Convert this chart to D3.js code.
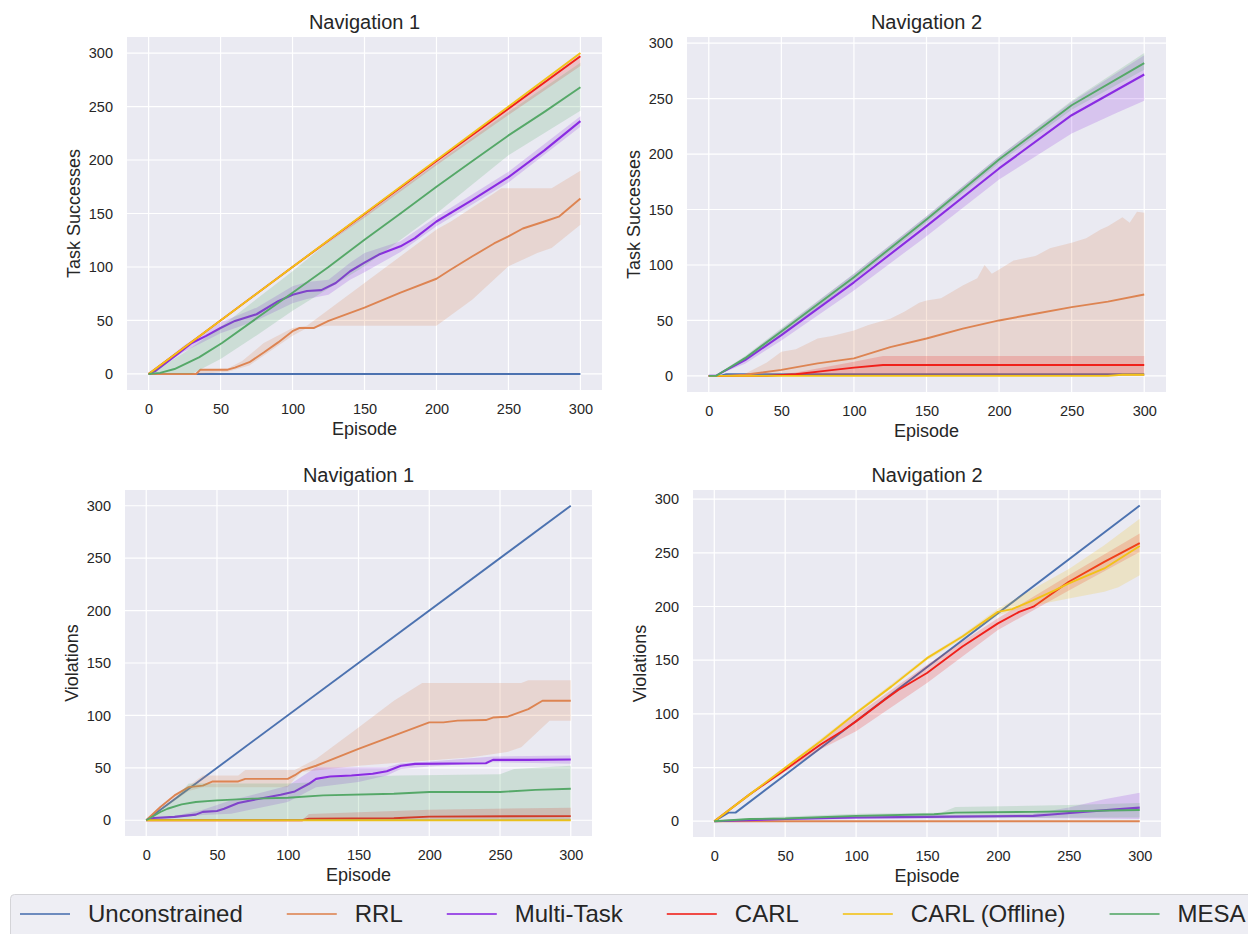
<!DOCTYPE html>
<html>
<head>
<meta charset="utf-8">
<script src="https://cdn.jsdelivr.net/npm/d3@7"></script>
<style>
  html, body { margin: 0; padding: 0; background: #fff; }
  svg { display: block; font-family: "Liberation Sans", Arial, sans-serif; }
</style>
</head>
<body>
<svg id="chart" width="1248" height="934"></svg>
<script>
// Task successes / violations per episode, two navigation envs.
// Each series: mean line as [episode, value] pairs, band as hi/lo pairs.

const seriesNames = ["Unconstrained", "RRL", "Multi-Task", "CARL", "CARL (Offline)", "MESA"];
const seriesColors = ["#4c72b0", "#dd8452", "#8a2be2", "#f0201a", "#f2c218", "#55a868"];
const xTicks = [0, 50, 100, 150, 200, 250, 300];
const yTicks = [0, 50, 100, 150, 200, 250, 300];

// ---- Navigation 1 : Task Successes
const p1_unc = [[0, 0], [300, 0]];
const p1_rrl = [[0, 0], [33, 0], [36, 4], [55, 4], [60, 6], [70, 11], [80, 20], [90, 29.5], [100, 40], [105, 43], [115, 43], [125, 49.6], [150, 62], [175, 76], [200, 89], [210, 97.6], [225, 110], [240, 122], [250, 128.6], [260, 136], [275, 142.5], [285, 147], [300, 164]];
const p1_rrl_hi = [[0, 0], [33, 0], [36, 4], [55, 5], [65, 12], [80, 29], [100, 43], [110, 45], [200, 135], [210, 142.5], [240, 169], [245, 173.5], [280, 173.5], [300, 190]];
const p1_rrl_lo = [[0, 0], [35, 0], [55, 2], [70, 8], [100, 35.6], [110, 43], [125, 45], [200, 45], [225, 69.7], [250, 100.7], [270, 113], [280, 117.8], [300, 139.5]];
const p1_mt = [[0, 0], [5, 3], [20, 18.6], [30, 29], [40, 35.6], [50, 43], [60, 49.6], [75, 55.8], [90, 68], [100, 74], [110, 77.5], [120, 78.4], [130, 85], [140, 96], [150, 104], [160, 111.6], [175, 119.3], [185, 127], [200, 142.5], [225, 162.7], [250, 184], [275, 209], [300, 236.4]];
const p1_mt_hi = [[0, 0], [25, 27], [50, 48], [75, 62], [100, 82], [110, 86], [125, 88], [140, 104], [150, 113], [175, 124], [200, 147], [250, 189], [300, 241]];
const p1_mt_lo = [[0, 0], [25, 21], [50, 38], [75, 50], [100, 66], [110, 70], [125, 74], [140, 88], [150, 95], [175, 114], [200, 138], [250, 179], [300, 231]];
const p1_carl = [[0, 0], [100, 100], [150, 149.5], [200, 199], [250, 248], [300, 297]];
const p1_carl_hi = [[0, 0], [300, 300]];
const p1_carl_lo = [[0, 0], [100, 100], [110, 109], [150, 146], [200, 195], [250, 242], [300, 288]];
const p1_off = [[0, 0], [300, 300]];
const p1_mesa = [[0, 0], [8, 1], [18, 4.6], [35, 15.5], [51, 29], [75, 52], [100, 76], [125, 100], [150, 125.5], [175, 150], [200, 175], [225, 199], [250, 223], [275, 245], [300, 268]];
const p1_mesa_hi = [[0, 0], [25, 20], [50, 44], [75, 70], [100, 96], [120, 118], [150, 148], [200, 197], [250, 245], [300, 291]];
const p1_mesa_lo = [[0, 0], [30, 0], [50, 14], [75, 36], [100, 59], [150, 100.7], [200, 150], [250, 204.5], [300, 246]];

// ---- Navigation 2 : Task Successes
const p2_unc = [[0, 0], [8, 0], [12, 1.5], [300, 1.5]];
const p2_rrl = [[0, 0], [10, 0], [25, 1], [50, 5.4], [75, 11.3], [100, 15.8], [125, 26], [150, 33.7], [175, 42.6], [200, 50], [225, 56], [250, 62], [275, 67], [300, 73.4]];
const p2_rrl_hi = [[0, 0], [10, 0], [25, 2], [40, 12], [50, 21.8], [60, 24], [75, 33.7], [85, 36], [100, 41], [110, 46], [125, 51.6], [135, 58], [145, 66], [150, 68], [160, 70], [175, 81.4], [185, 88], [190, 100], [195, 92], [200, 96], [210, 104], [225, 108], [235, 115], [250, 120], [260, 124], [270, 132], [275, 135], [285, 143], [290, 138], [295, 148], [300, 147]];
const p2_rrl_lo = [[0, 0], [300, 0]];
const p2_mt = [[0, 0], [5, 0], [10, 3.9], [25, 14.3], [50, 36.7], [100, 84.4], [150, 135], [200, 187], [250, 235], [300, 271.7]];
const p2_mt_hi = [[0, 0], [5, 0], [10, 5], [25, 17], [50, 42], [100, 92], [150, 144], [200, 198], [250, 247], [300, 289]];
const p2_mt_lo = [[0, 0], [5, 0], [10, 3], [25, 11], [50, 32], [100, 77], [150, 126], [200, 177], [250, 218.6], [280, 236.5], [300, 248]];
const p2_carl = [[0, 0], [40, 0], [60, 1.5], [80, 4.5], [100, 7.5], [120, 9.8], [300, 9.8]];
const p2_carl_hi = [[0, 0], [40, 0], [60, 3], [100, 12.8], [120, 18], [300, 18]];
const p2_carl_lo = [[0, 0], [300, 0]];
const p2_off = [[0, 0], [275, 0], [285, 1], [300, 1]];
const p2_off_hi = [[0, 0], [275, 0], [285, 2], [300, 2]];
const p2_off_lo = [[0, 0], [300, 0]];
const p2_mesa = [[0, 0], [5, 0], [10, 4], [25, 16], [50, 40], [100, 89], [150, 141], [200, 195], [250, 244], [300, 282]];
const p2_mesa_hi = [[0, 0], [5, 0], [10, 5], [25, 18], [50, 43], [100, 92], [150, 144], [200, 198], [250, 248], [300, 291]];
const p2_mesa_lo = [[0, 0], [5, 0], [10, 3], [25, 14], [50, 37], [100, 86], [150, 138], [200, 192], [250, 240], [300, 276]];

// ---- Navigation 1 : Violations
const p3_unc = [[0, 0], [300, 300]];
const p3_rrl = [[0, 0], [10, 12.7], [20, 23.7], [30, 31.6], [40, 33], [47, 37], [65, 37], [70, 39.5], [100, 39.5], [105, 43], [110, 47.5], [120, 52], [150, 68], [175, 80.7], [200, 93.4], [210, 93.4], [220, 95], [240, 95.6], [245, 98], [255, 98.7], [270, 106], [280, 114], [300, 114]];
const p3_rrl_hi = [[0, 0], [30, 33], [40, 42.7], [65, 42.7], [70, 48], [105, 48], [120, 58.5], [150, 88.6], [175, 114], [195, 131], [265, 131], [270, 133.5], [300, 133.5]];
const p3_rrl_lo = [[0, 0], [30, 28], [40, 31.6], [100, 31.6], [105, 39.5], [110, 46], [150, 52], [180, 55], [200, 57], [230, 60], [255, 65], [265, 69.6], [285, 95], [300, 95]];
const p3_mt = [[0, 0], [5, 2.2], [20, 3.2], [35, 5.4], [40, 8], [50, 8.9], [55, 11], [65, 16.5], [80, 20.6], [95, 24.4], [105, 27.5], [115, 34.8], [120, 39.5], [130, 41.8], [145, 42.7], [160, 44.3], [170, 46.8], [180, 52], [190, 53.8], [240, 54.4], [245, 57.6], [270, 57.6], [300, 58]];
const p3_mt_hi = [[0, 0], [20, 4], [40, 10], [60, 19], [100, 33], [115, 46], [120, 50.6], [170, 50.6], [180, 54.4], [200, 56], [245, 60.8], [300, 61.7]];
const p3_mt_lo = [[0, 0], [20, 2.5], [40, 5], [60, 6.3], [100, 17.4], [120, 31.6], [150, 36.4], [170, 42.7], [180, 49], [200, 51.3], [245, 55.4], [300, 53.8]];
const p3_carl = [[0, 0], [110, 0], [115, 1.5], [175, 2], [200, 3.5], [300, 4]];
const p3_carl_hi = [[0, 0], [110, 0], [115, 6], [200, 10], [300, 12]];
const p3_carl_lo = [[0, 0], [300, 0]];
const p3_off = [[0, 0], [300, 0]];
const p3_mesa = [[0, 0], [10, 7.9], [15, 11], [25, 15.2], [35, 17.4], [50, 19], [75, 20.6], [100, 21.5], [125, 23.7], [175, 25.3], [200, 27], [250, 27], [275, 29], [300, 30]];
const p3_mesa_hi = [[0, 0], [20, 20], [30, 35], [100, 35], [115, 36], [130, 41], [180, 42.7], [250, 44], [260, 49], [300, 52]];
const p3_mesa_lo = [[0, 0], [300, 0]];

// ---- Navigation 2 : Violations
const p4_unc = [[0, 0], [10, 8], [15, 8], [300, 294]];
const p4_rrl = [[0, 0], [300, 0]];
const p4_mt = [[0, 0], [50, 2], [100, 3.5], [150, 4], [225, 5], [240, 6.5], [260, 8.7], [300, 12.7]];
const p4_mt_hi = [[0, 0], [50, 3], [100, 5], [200, 6], [225, 7], [250, 12.7], [275, 20.4], [300, 26.6]];
const p4_mt_lo = [[0, 0], [50, 1], [100, 2], [225, 3], [300, 2]];
const p4_carl = [[0, 0], [25, 25], [50, 48], [75, 71.5], [90, 83.8], [100, 93], [120, 113], [130, 122.5], [150, 138], [175, 162.7], [200, 184.3], [215, 195], [225, 199.8], [250, 223], [275, 241.6], [300, 259]];
const p4_carl_hi = [[0, 0], [25, 25.5], [50, 50], [75, 75], [100, 99], [150, 145.7], [200, 189], [250, 229], [300, 268]];
const p4_carl_lo = [[0, 0], [25, 24.5], [50, 46], [75, 67], [100, 83.8], [150, 128.7], [200, 178], [250, 215], [300, 250.8]];
const p4_off = [[0, 0], [25, 25], [50, 49.8], [75, 74.5], [100, 100.8], [125, 125.6], [150, 151.9], [175, 172], [200, 195], [210, 197.6], [225, 206], [240, 215], [250, 221.5], [275, 235.4], [300, 256.4]];
const p4_off_hi = [[0, 0], [50, 51], [100, 102.5], [150, 153.5], [175, 174], [200, 198], [250, 235], [275, 257], [300, 281.8]];
const p4_off_lo = [[0, 0], [50, 48.5], [100, 99], [150, 150], [175, 170], [200, 192], [225, 201], [250, 207.5], [275, 213.7], [285, 218], [300, 229]];
const p4_mesa = [[0, 0], [25, 2], [50, 2.5], [100, 5], [155, 6.5], [170, 8], [225, 8.7], [300, 10.5]];
const p4_mesa_hi = [[0, 0], [25, 3], [100, 7], [160, 8], [170, 13.3], [250, 15], [300, 17]];
const p4_mesa_lo = [[0, 0], [25, 1], [100, 3], [300, 3.4]];

// panel layout (pixel boxes of the axes) and y domains
const panels = [
  {
    title: "Navigation 1", ylabel: "Task Successes",
    box: { x0: 127, x1: 602, y0: 37, y1: 390 }, ydom: [-15, 315],
    series: [
      { mean: p1_unc },
      { mean: p1_rrl, hi: p1_rrl_hi, lo: p1_rrl_lo },
      { mean: p1_mt, hi: p1_mt_hi, lo: p1_mt_lo },
      { mean: p1_carl, hi: p1_carl_hi, lo: p1_carl_lo },
      { mean: p1_off },
      { mean: p1_mesa, hi: p1_mesa_hi, lo: p1_mesa_lo },
    ],
  },
  {
    title: "Navigation 2", ylabel: "Task Successes",
    box: { x0: 687, x1: 1166, y0: 37, y1: 392 }, ydom: [-14.5, 305.5],
    series: [
      { mean: p2_unc },
      { mean: p2_rrl, hi: p2_rrl_hi, lo: p2_rrl_lo },
      { mean: p2_mt, hi: p2_mt_hi, lo: p2_mt_lo },
      { mean: p2_carl, hi: p2_carl_hi, lo: p2_carl_lo },
      { mean: p2_off, hi: p2_off_hi, lo: p2_off_lo },
      { mean: p2_mesa, hi: p2_mesa_hi, lo: p2_mesa_lo },
    ],
  },
  {
    title: "Navigation 1", ylabel: "Violations",
    box: { x0: 125, x1: 592, y0: 490, y1: 836 }, ydom: [-15, 315],
    series: [
      { mean: p3_unc },
      { mean: p3_rrl, hi: p3_rrl_hi, lo: p3_rrl_lo },
      { mean: p3_mt, hi: p3_mt_hi, lo: p3_mt_lo },
      { mean: p3_carl, hi: p3_carl_hi, lo: p3_carl_lo },
      { mean: p3_off },
      { mean: p3_mesa, hi: p3_mesa_hi, lo: p3_mesa_lo },
    ],
  },
  {
    title: "Navigation 2", ylabel: "Violations",
    box: { x0: 693, x1: 1161, y0: 490, y1: 837 }, ydom: [-14.7, 308.5],
    series: [
      { mean: p4_unc },
      { mean: p4_rrl },
      { mean: p4_mt, hi: p4_mt_hi, lo: p4_mt_lo },
      { mean: p4_carl, hi: p4_carl_hi, lo: p4_carl_lo },
      { mean: p4_off, hi: p4_off_hi, lo: p4_off_lo },
      { mean: p4_mesa, hi: p4_mesa_hi, lo: p4_mesa_lo },
    ],
  },
];

const TEXT = "#262626";
const svg = d3.select("#chart");
svg.append("rect").attr("width", 1248).attr("height", 934).attr("fill", "#fff");

function drawPanel(p, i) {
  const b = p.box;
  const x = d3.scaleLinear().domain([-15, 315]).range([b.x0, b.x1]);
  const y = d3.scaleLinear().domain(p.ydom).range([b.y1, b.y0]);
  const g = svg.append("g");

  g.append("rect")
    .attr("x", b.x0).attr("y", b.y0)
    .attr("width", b.x1 - b.x0).attr("height", b.y1 - b.y0)
    .attr("fill", "#eaeaf2");

  // grid
  g.selectAll(".gx").data(xTicks).enter().append("line")
    .attr("x1", (d) => x(d)).attr("x2", (d) => x(d))
    .attr("y1", b.y0).attr("y2", b.y1)
    .attr("stroke", "#fff").attr("stroke-width", 1.2);
  g.selectAll(".gy").data(yTicks).enter().append("line")
    .attr("y1", (d) => y(d)).attr("y2", (d) => y(d))
    .attr("x1", b.x0).attr("x2", b.x1)
    .attr("stroke", "#fff").attr("stroke-width", 1.2);

  // axes (labels only, no tick marks)
  const ax = g.append("g").attr("transform", `translate(0,${b.y1})`)
    .call(d3.axisBottom(x).tickValues(xTicks).tickSize(0).tickPadding(14));
  const ay = g.append("g").attr("transform", `translate(${b.x0},0)`)
    .call(d3.axisLeft(y).tickValues(yTicks).tickSize(0).tickPadding(14));
  [ax, ay].forEach((a) => {
    a.select(".domain").remove();
    a.selectAll("text").attr("font-size", 14.5).attr("fill", TEXT)
      .attr("font-family", "Liberation Sans, Arial, sans-serif");
  });

  const clipId = `clip${i}`;
  svg.append("clipPath").attr("id", clipId).append("rect")
    .attr("x", b.x0).attr("y", b.y0)
    .attr("width", b.x1 - b.x0).attr("height", b.y1 - b.y0);
  const plot = g.append("g").attr("clip-path", `url(#${clipId})`);

  const line = d3.line().x((d) => x(d[0])).y((d) => y(d[1]));

  p.series.forEach((s, k) => {
    const col = seriesColors[k];
    if (s.hi && s.lo) {
      const poly = s.hi.concat(s.lo.slice().reverse());
      plot.append("path")
        .attr("d", line(poly) + "Z")
        .attr("fill", col).attr("fill-opacity", 0.2)
        .attr("stroke", "none");
    }
    plot.append("path")
      .attr("d", line(s.mean))
      .attr("fill", "none")
      .attr("stroke", col)
      .attr("stroke-width", k === 2 ? 2.1 : 1.9)
      .attr("stroke-linejoin", "round");
  });

  const cx = (b.x0 + b.x1) / 2;
  g.append("text")
    .attr("x", cx).attr("y", b.y0 - 8)
    .attr("text-anchor", "middle")
    .attr("font-size", 20).attr("fill", TEXT)
    .text(p.title);
  g.append("text")
    .attr("x", cx).attr("y", b.y1 + 45)
    .attr("text-anchor", "middle")
    .attr("font-size", 18).attr("fill", TEXT)
    .text("Episode");
  g.append("text")
    .attr("transform", `translate(${b.x0 - 47},${(b.y0 + b.y1) / 2}) rotate(-90)`)
    .attr("text-anchor", "middle")
    .attr("font-size", 18).attr("fill", TEXT)
    .text(p.ylabel);
}

panels.forEach(drawPanel);

// legend along the bottom, runs off the right edge like the original
const leg = svg.append("g");
leg.append("rect")
  .attr("x", 10.5).attr("y", 894.5)
  .attr("width", 1260).attr("height", 60)
  .attr("rx", 4)
  .attr("fill", "#eeeef4")
  .attr("stroke", "#d4d4d8");

const HANDLE = 50, PAD = 18, GAP = 44;
let lx = 20;
seriesNames.forEach((name, k) => {
  leg.append("line")
    .attr("x1", lx).attr("x2", lx + HANDLE)
    .attr("y1", 914).attr("y2", 914)
    .attr("stroke", seriesColors[k]).attr("stroke-width", 2.2)
    .attr("stroke-opacity", 0.8);
  const t = leg.append("text")
    .attr("x", lx + HANDLE + PAD).attr("y", 922)
    .attr("font-size", 24).attr("fill", TEXT)
    .text(name);
  lx += HANDLE + PAD + t.node().getComputedTextLength() + GAP;
});
</script>
</body>
</html>
